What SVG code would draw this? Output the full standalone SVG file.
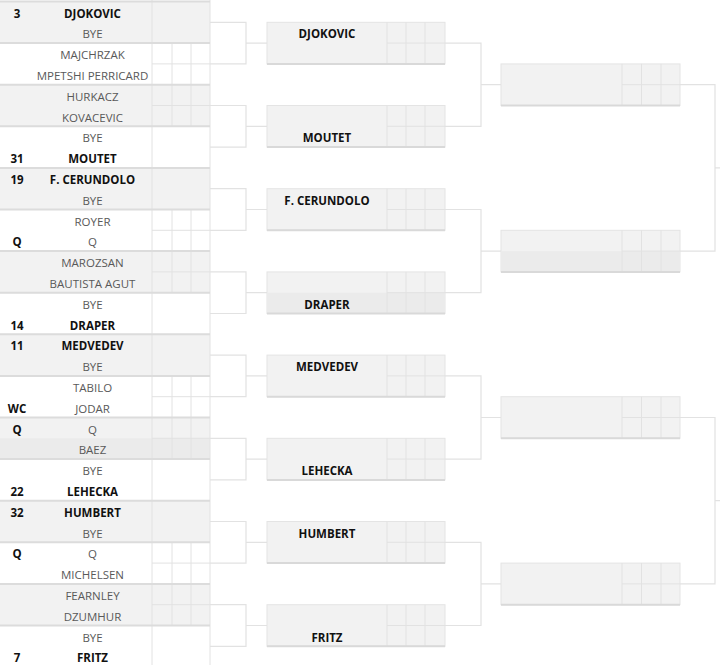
<svg xmlns="http://www.w3.org/2000/svg" width="720" height="665" viewBox="0 0 720 665">
<style>
text{font-family:"Open Sans","Noto Sans","Liberation Sans",sans-serif;font-size:11.5px;text-anchor:middle}
.n{fill:#595959}
.b{fill:#111;font-weight:bold}
.g{fill:#f2f2f2}
.w{fill:#fff}
.d{fill:#ebebeb}
.gl{stroke:#dcdcdc;stroke-width:2;fill:none}
.vl{stroke:#e2e2e2;stroke-width:1;fill:none}
.box{fill:#f2f2f2;stroke:#e4e4e4;stroke-width:1}
.bb{stroke:#d9d9d9;stroke-width:2;fill:none}
.c{stroke:#e2e2e2;stroke-width:1.2;fill:none}
</style>
<rect width="720" height="665" fill="#fff"/>

<!-- Round 1 matches -->
<g id="r1m0"><rect class="g" x="0" y="1.5" width="210" height="41.6"/><text class="b" x="17" y="17.5">3</text><text class="b" x="92.5" y="17.5">DJOKOVIC</text><text class="n" x="92.5" y="38.3">BYE</text></g>
<g id="r1m1"><rect class="w" x="0" y="43.1" width="210" height="41.6"/><path class="vl" d="M172,43.1V84.7M191,43.1V84.7M152,63.9H210"/><text class="n" x="92.5" y="59.1">MAJCHRZAK</text><text class="n" x="92.5" y="79.9">MPETSHI PERRICARD</text></g>
<g id="r1m2"><rect class="g" x="0" y="84.7" width="210" height="41.6"/><path class="vl" d="M172,84.7V126.3M191,84.7V126.3M152,105.5H210"/><text class="n" x="92.5" y="100.7">HURKACZ</text><text class="n" x="92.5" y="121.5">KOVACEVIC</text></g>
<g id="r1m3"><rect class="w" x="0" y="126.3" width="210" height="41.6"/><text class="n" x="92.5" y="142.3">BYE</text><text class="b" x="17" y="163.1">31</text><text class="b" x="92.5" y="163.1">MOUTET</text></g>
<g id="r1m4"><rect class="g" x="0" y="167.9" width="210" height="41.6"/><text class="b" x="17" y="183.9">19</text><text class="b" x="92.5" y="183.9">F. CERUNDOLO</text><text class="n" x="92.5" y="204.7">BYE</text></g>
<g id="r1m5"><rect class="w" x="0" y="209.5" width="210" height="41.6"/><path class="vl" d="M172,209.5V251.1M191,209.5V251.1M152,230.3H210"/><text class="n" x="92.5" y="225.5">ROYER</text><text class="b" x="17" y="246.3">Q</text><text class="n" x="92.5" y="246.3">Q</text></g>
<g id="r1m6"><rect class="g" x="0" y="251.1" width="210" height="41.6"/><path class="vl" d="M172,251.1V292.7M191,251.1V292.7M152,271.9H210"/><text class="n" x="92.5" y="267.1">MAROZSAN</text><text class="n" x="92.5" y="287.9">BAUTISTA AGUT</text></g>
<g id="r1m7"><rect class="w" x="0" y="292.7" width="210" height="41.6"/><text class="n" x="92.5" y="308.7">BYE</text><text class="b" x="17" y="329.5">14</text><text class="b" x="92.5" y="329.5">DRAPER</text></g>
<g id="r1m8"><rect class="g" x="0" y="334.3" width="210" height="41.6"/><text class="b" x="17" y="350.3">11</text><text class="b" x="92.5" y="350.3">MEDVEDEV</text><text class="n" x="92.5" y="371.1">BYE</text></g>
<g id="r1m9"><rect class="w" x="0" y="375.9" width="210" height="41.6"/><path class="vl" d="M172,375.9V417.5M191,375.9V417.5M152,396.7H210"/><text class="n" x="92.5" y="391.9">TABILO</text><text class="b" x="17" y="412.7">WC</text><text class="n" x="92.5" y="412.7">JODAR</text></g>
<g id="r1m10"><rect class="g" x="0" y="417.5" width="210" height="41.6"/><rect class="d" x="0" y="438.3" width="210" height="20.8"/><path class="vl" d="M172,417.5V459.1M191,417.5V459.1M152,438.3H210"/><text class="b" x="17" y="433.5">Q</text><text class="n" x="92.5" y="433.5">Q</text><text class="n" x="92.5" y="454.3">BAEZ</text></g>
<g id="r1m11"><rect class="w" x="0" y="459.1" width="210" height="41.6"/><text class="n" x="92.5" y="475.1">BYE</text><text class="b" x="17" y="495.9">22</text><text class="b" x="92.5" y="495.9">LEHECKA</text></g>
<g id="r1m12"><rect class="g" x="0" y="500.7" width="210" height="41.6"/><text class="b" x="17" y="516.7">32</text><text class="b" x="92.5" y="516.7">HUMBERT</text><text class="n" x="92.5" y="537.5">BYE</text></g>
<g id="r1m13"><rect class="w" x="0" y="542.3" width="210" height="41.6"/><path class="vl" d="M172,542.3V583.9M191,542.3V583.9M152,563.1H210"/><text class="b" x="17" y="558.3">Q</text><text class="n" x="92.5" y="558.3">Q</text><text class="n" x="92.5" y="579.1">MICHELSEN</text></g>
<g id="r1m14"><rect class="g" x="0" y="583.9" width="210" height="41.6"/><path class="vl" d="M172,583.9V625.5M191,583.9V625.5M152,604.7H210"/><text class="n" x="92.5" y="599.9">FEARNLEY</text><text class="n" x="92.5" y="620.7">DZUMHUR</text></g>
<g id="r1m15"><rect class="w" x="0" y="625.5" width="210" height="41.6"/><text class="n" x="92.5" y="641.5">BYE</text><text class="b" x="17" y="662.3">7</text><text class="b" x="92.5" y="662.3">FRITZ</text></g>

<!-- grid of round 1 -->
<g id="r1grid">
<path class="vl" d="M152,0V665M210,0V665"/>
<path class="gl" d="M0,1.5H210M0,43.1H210M0,84.7H210M0,126.3H210M0,167.9H210M0,209.5H210M0,251.1H210M0,292.7H210M0,334.3H210M0,375.9H210M0,417.5H210M0,459.1H210M0,500.7H210M0,542.3H210M0,583.9H210M0,625.5H210"/>
</g>

<!-- Round 2 -->
<g id="r2m0"><rect class="box" x="267" y="22.3" width="178" height="41.6"/><path class="vl" d="M387,22.3V63.9M406,22.3V63.9M425,22.3V63.9M387,43.1H445"/><path class="bb" d="M267,63.9H445"/><text class="b" x="327" y="38.3">DJOKOVIC</text></g>
<g id="r2m1"><rect class="box" x="267" y="105.5" width="178" height="41.6"/><path class="vl" d="M387,105.5V147.1M406,105.5V147.1M425,105.5V147.1M387,126.3H445"/><path class="bb" d="M267,147.1H445"/><text class="b" x="327" y="142.3">MOUTET</text></g>
<g id="r2m2"><rect class="box" x="267" y="188.7" width="178" height="41.6"/><path class="vl" d="M387,188.7V230.3M406,188.7V230.3M425,188.7V230.3M387,209.5H445"/><path class="bb" d="M267,230.3H445"/><text class="b" x="327" y="204.7">F. CERUNDOLO</text></g>
<g id="r2m3"><rect class="box" x="267" y="271.9" width="178" height="41.6"/><rect class="d" x="267.5" y="292.7" width="177" height="20.8"/><path class="vl" d="M387,271.9V313.5M406,271.9V313.5M425,271.9V313.5M387,292.7H445"/><path class="bb" d="M267,313.5H445"/><text class="b" x="327" y="308.7">DRAPER</text></g>
<g id="r2m4"><rect class="box" x="267" y="355.1" width="178" height="41.6"/><path class="vl" d="M387,355.1V396.7M406,355.1V396.7M425,355.1V396.7M387,375.9H445"/><path class="bb" d="M267,396.7H445"/><text class="b" x="327" y="371.1">MEDVEDEV</text></g>
<g id="r2m5"><rect class="box" x="267" y="438.3" width="178" height="41.6"/><path class="vl" d="M387,438.3V479.9M406,438.3V479.9M425,438.3V479.9M387,459.1H445"/><path class="bb" d="M267,479.9H445"/><text class="b" x="327" y="475.1">LEHECKA</text></g>
<g id="r2m6"><rect class="box" x="267" y="521.5" width="178" height="41.6"/><path class="vl" d="M387,521.5V563.1M406,521.5V563.1M425,521.5V563.1M387,542.3H445"/><path class="bb" d="M267,563.1H445"/><text class="b" x="327" y="537.5">HUMBERT</text></g>
<g id="r2m7"><rect class="box" x="267" y="604.7" width="178" height="41.6"/><path class="vl" d="M387,604.7V646.3M406,604.7V646.3M425,604.7V646.3M387,625.5H445"/><path class="bb" d="M267,646.3H445"/><text class="b" x="327" y="641.5">FRITZ</text></g>

<!-- Round 3 -->
<g id="r3m0"><rect class="box" x="501" y="63.9" width="179" height="41.6"/><path class="vl" d="M622,63.9V105.5M641.5,63.9V105.5M661,63.9V105.5M622,84.7H680"/><path class="bb" d="M501,105.5H680"/></g>
<g id="r3m1"><rect class="box" x="501" y="230.3" width="179" height="41.6"/><rect class="d" x="501.5" y="251.1" width="178" height="20.8"/><path class="vl" d="M622,230.3V271.9M641.5,230.3V271.9M661,230.3V271.9M622,251.1H680"/><path class="bb" d="M501,271.9H680"/></g>
<g id="r3m2"><rect class="box" x="501" y="396.7" width="179" height="41.6"/><path class="vl" d="M622,396.7V438.3M641.5,396.7V438.3M661,396.7V438.3M622,417.5H680"/><path class="bb" d="M501,438.3H680"/></g>
<g id="r3m3"><rect class="box" x="501" y="563.1" width="179" height="41.6"/><path class="vl" d="M622,563.1V604.7M641.5,563.1V604.7M661,563.1V604.7M622,583.9H680"/><path class="bb" d="M501,604.7H680"/></g>

<!-- Connectors -->
<g id="connectors">
<path class="c" d="M210,22.3H246V63.9H210M246,43.1H267"/>
<path class="c" d="M210,105.5H246V147.1H210M246,126.3H267"/>
<path class="c" d="M210,188.7H246V230.3H210M246,209.5H267"/>
<path class="c" d="M210,271.9H246V313.5H210M246,292.7H267"/>
<path class="c" d="M210,355.1H246V396.7H210M246,375.9H267"/>
<path class="c" d="M210,438.3H246V479.9H210M246,459.1H267"/>
<path class="c" d="M210,521.5H246V563.1H210M246,542.3H267"/>
<path class="c" d="M210,604.7H246V646.3H210M246,625.5H267"/>
<path class="c" d="M445,43.1H481V126.3H445M481,84.7H501"/>
<path class="c" d="M445,209.5H481V292.7H445M481,251.1H501"/>
<path class="c" d="M445,375.9H481V459.1H445M481,417.5H501"/>
<path class="c" d="M445,542.3H481V625.5H445M481,583.9H501"/>
<path class="c" d="M680,84.7H715V251.1H680M715,167.9H720"/>
<path class="c" d="M680,417.5H715V583.9H680M715,500.7H720"/>
</g>
</svg>
